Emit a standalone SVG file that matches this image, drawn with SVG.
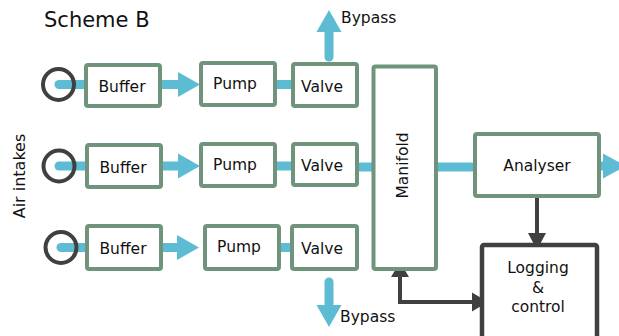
<svg xmlns="http://www.w3.org/2000/svg" width="619" height="336" viewBox="0 0 619 336">
<style>
text{font-family:"DejaVu Sans","Verdana",sans-serif;font-size:15.5px;fill:#111}
.box{fill:#fff;stroke:#6f937b;stroke-width:4}
.ctl{fill:#fff;stroke:#404040;stroke-width:4.5}
.pipe{stroke:#5dbcd4;stroke-width:9;fill:none}
.rc{stroke-linecap:round}
.ah{fill:#5dbcd4}
.wire{stroke:#404040;stroke-width:4;fill:none}
.dh{fill:#404040}
.inlet{fill:none;stroke:#404040;stroke-width:4}
</style>
<rect width="619" height="336" fill="#fff"/>
<text x="44" y="27" style="font-size:21px">Scheme B</text>
<text transform="translate(25,176) rotate(-90)" text-anchor="middle" style="font-size:16px">Air intakes</text>

<g id="connectors">
  <!-- row 1 -->
  <line class="pipe rc" x1="59" y1="84.5" x2="87" y2="84.5"/>
  <line class="pipe" x1="160" y1="84.5" x2="179" y2="84.5"/>
  <polygon class="ah" points="178,72 200,84.5 178,97"/>
  <line class="pipe" x1="275" y1="84.5" x2="293" y2="84.5"/>
  <line class="pipe rc" x1="329" y1="57" x2="329" y2="31"/>
  <polygon class="ah" points="316.5,32 329,10 341.5,32"/>
  <!-- row 2 -->
  <line class="pipe rc" x1="59" y1="166" x2="88" y2="166"/>
  <line class="pipe" x1="161" y1="166" x2="179" y2="166"/>
  <polygon class="ah" points="178,153.5 200,166 178,178.5"/>
  <line class="pipe" x1="275" y1="166" x2="293" y2="166"/>
  <line class="pipe" x1="357" y1="167" x2="374" y2="167"/>
  <line class="pipe" x1="436" y1="167" x2="476" y2="167"/>
  <line class="pipe" x1="598" y1="166" x2="604" y2="166"/>
  <polygon class="ah" points="603,153.5 626,166 603,178.5"/>
  <!-- row 3 -->
  <line class="pipe rc" x1="61" y1="247.5" x2="88" y2="247.5"/>
  <line class="pipe" x1="161" y1="247.5" x2="178" y2="247.5"/>
  <polygon class="ah" points="177,235 199,247.5 177,260"/>
  <line class="pipe" x1="279" y1="247.5" x2="293" y2="247.5"/>
  <line class="pipe rc" x1="329" y1="282" x2="329" y2="306"/>
  <polygon class="ah" points="316.5,305 329,327 341.5,305"/>
  <!-- control -->
  <line class="wire" x1="537" y1="197" x2="537" y2="235"/>
  <polygon class="dh" points="528,233 537,250 546,233"/>
  <polyline class="wire" points="400,276 400,302 474,302"/>
  <polygon class="dh" points="391,277 400,262 409,277"/>
  <polygon class="dh" points="472,292.5 488,302 472,311.5"/>
</g>

<g id="inlet1"><circle class="inlet" cx="58.5" cy="84.5" r="15.5"/></g>
<g id="inlet2"><circle class="inlet" cx="59" cy="166" r="15.5"/></g>
<g id="inlet3"><circle class="inlet" cx="61" cy="247.5" r="15.5"/></g>

<g id="buffer1"><rect class="box" x="86" y="65" width="74" height="41" rx="2"/><text x="122" y="92" text-anchor="middle">Buffer</text></g>
<g id="pump1"><rect class="box" x="201" y="63" width="74" height="42" rx="2"/><text x="235" y="89" text-anchor="middle">Pump</text></g>
<g id="valve1"><rect class="box" x="293" y="64" width="64" height="42" rx="2"/><text x="322" y="92" text-anchor="middle">Valve</text></g>

<g id="buffer2"><rect class="box" x="87" y="145" width="74" height="42" rx="2"/><text x="123" y="173" text-anchor="middle">Buffer</text></g>
<g id="pump2"><rect class="box" x="201" y="144" width="74" height="42" rx="2"/><text x="235" y="170" text-anchor="middle">Pump</text></g>
<g id="valve2"><rect class="box" x="293" y="144" width="64" height="41" rx="2"/><text x="322" y="171" text-anchor="middle">Valve</text></g>

<g id="buffer3"><rect class="box" x="87" y="226" width="74" height="43" rx="2"/><text x="123" y="254" text-anchor="middle">Buffer</text></g>
<g id="pump3"><rect class="box" x="205" y="226" width="74" height="43" rx="2"/><text x="239" y="252" text-anchor="middle">Pump</text></g>
<g id="valve3"><rect class="box" x="292" y="226" width="65" height="43" rx="2"/><text x="322" y="254" text-anchor="middle">Valve</text></g>

<g id="manifold"><rect class="box" x="373.5" y="66.5" width="62.5" height="202.5" rx="2"/><text transform="translate(408,165.5) rotate(-90)" text-anchor="middle">Manifold</text></g>
<g id="analyser"><rect class="box" x="475" y="134" width="124" height="62" rx="2"/><text x="537" y="171" text-anchor="middle">Analyser</text></g>
<g id="logging"><rect class="ctl" x="482" y="245" width="115" height="100" rx="2"/><text x="538" y="273" text-anchor="middle">Logging</text><text x="538" y="293" text-anchor="middle">&amp;</text><text x="538" y="312" text-anchor="middle">control</text></g>

<g id="labels">
<text x="341" y="22.5">Bypass</text>
<text x="340" y="322">Bypass</text>
</g>
</svg>
